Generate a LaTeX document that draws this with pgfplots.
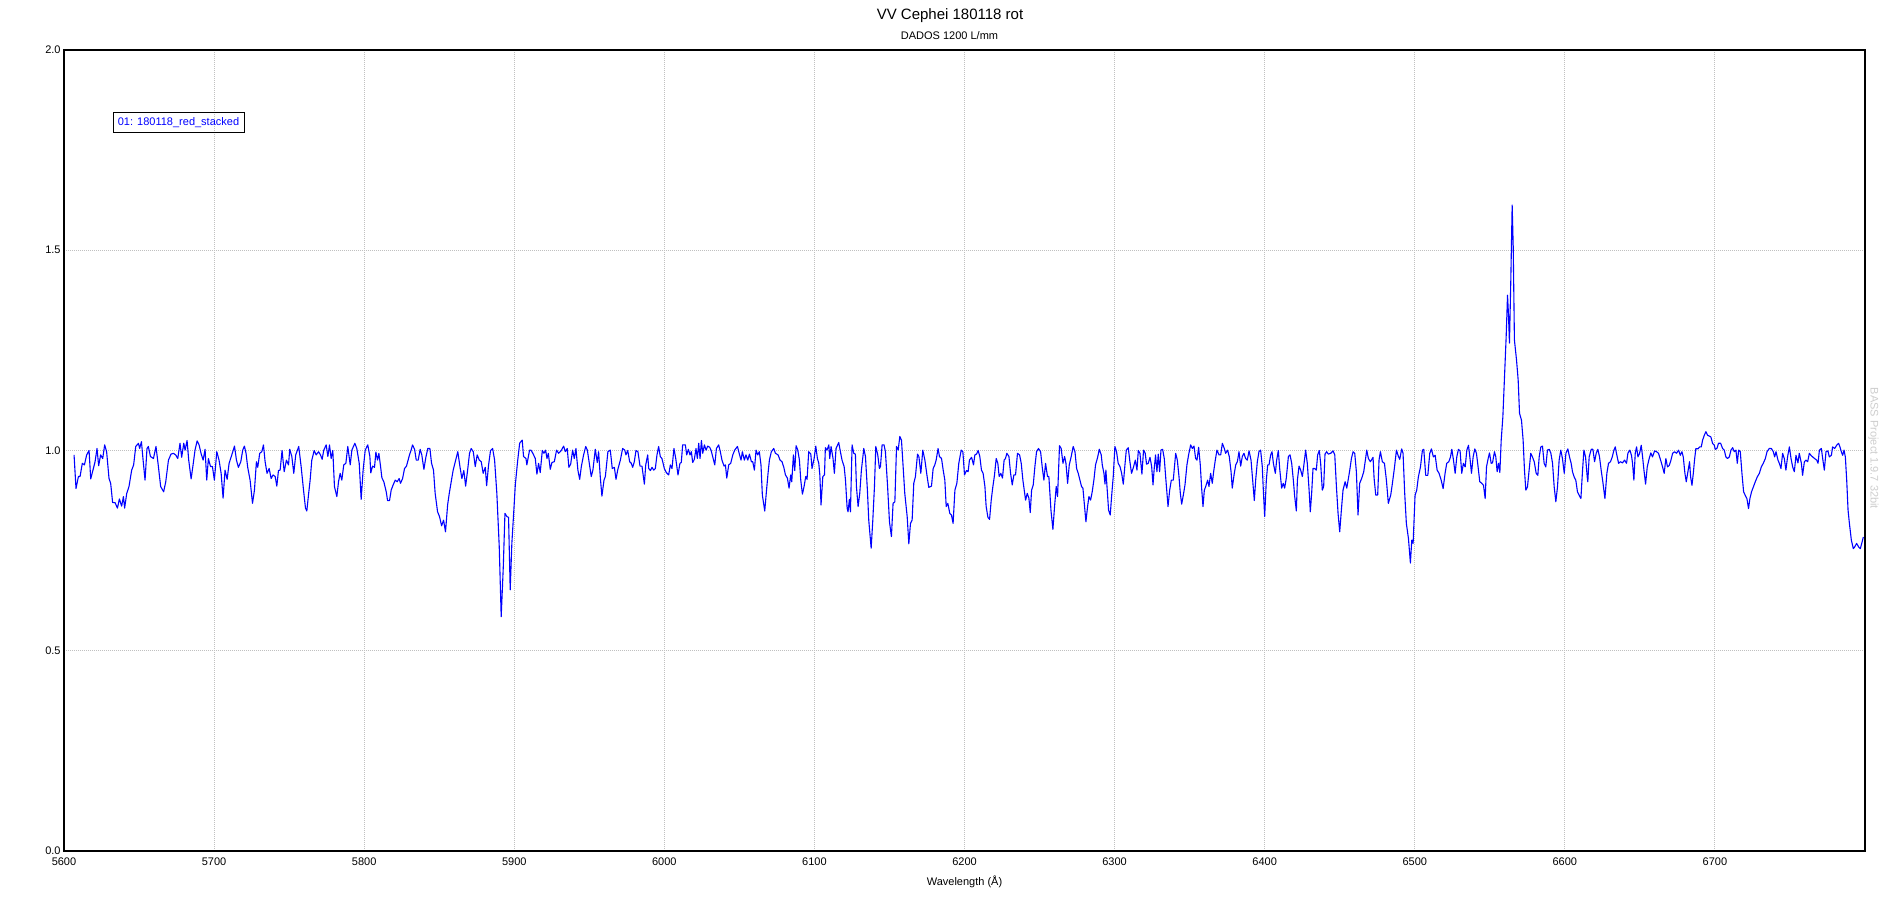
\documentclass[border=0pt]{standalone}
\usepackage{fontspec}
\setmainfont{Liberation Sans}
\usepackage{pgfplots}
\pgfplotsset{compat=1.18}
\definecolor{gridgray}{RGB}{192,192,192}
\definecolor{wmgray}{RGB}{205,205,205}
\definecolor{specblue}{RGB}{0,0,255}
\begin{document}
\begin{tikzpicture}
\useasboundingbox (-32bp,-24.5bp) rectangle (918bp,425.5bp);
\begin{axis}[
  at={(0,0)}, anchor=south west,
  scale only axis, width=900.5bp, height=400.5bp,
  xmin=5600, xmax=6800, ymin=0, ymax=2,
  xtick={5600,5700,5800,5900,6000,6100,6200,6300,6400,6500,6600,6700},
  xticklabels={5600,5700,5800,5900,6000,6100,6200,6300,6400,6500,6600,6700},
  ytick={0,0.5,1,1.5,2},
  yticklabels={0.0,0.5,1.0,1.5,2.0},
  major tick length=0pt,
  grid=major,
  grid style={gridgray, line width=0.5bp, dash pattern=on 0.5bp off 0.5bp},
  axis line style={line width=0.55bp},
  tick label style={font=\fontsize{5.5bp}{6.5bp}\selectfont},
  xticklabel style={anchor=center, yshift=-5.35bp},
  yticklabel style={anchor=east, inner sep=0pt, xshift=-1.5bp},
  xlabel={Wavelength (Å)},
  xlabel style={at={(axis description cs:0.5,0)}, anchor=center, yshift=-15.35bp, font=\fontsize{5.5bp}{6.5bp}\selectfont},
]
\addplot[specblue, line width=0.55bp, line join=round] table {
5606.7 0.989
5608.0 0.905
5609.6 0.935
5610.7 0.935
5612.2 0.968
5613.6 0.964
5615.1 0.989
5616.7 1.000
5617.8 0.929
5619.3 0.951
5620.7 0.972
5622.0 1.005
5623.1 0.962
5624.4 0.989
5625.8 0.980
5627.1 1.014
5628.4 0.997
5630.0 0.930
5631.1 0.918
5632.4 0.870
5634.0 0.870
5635.6 0.856
5636.9 0.879
5638.4 0.861
5639.6 0.885
5640.4 0.856
5641.8 0.893
5643.3 0.910
5645.1 0.951
5646.4 0.964
5647.8 1.010
5649.6 1.018
5650.4 1.005
5651.6 1.022
5652.7 0.976
5654.0 0.926
5655.3 1.005
5656.2 1.010
5657.6 0.985
5659.6 0.980
5661.3 1.010
5662.9 0.960
5664.4 0.910
5666.4 0.897
5667.8 0.922
5669.6 0.976
5671.3 0.991
5672.9 0.993
5674.4 0.989
5675.8 0.980
5677.3 1.018
5678.4 0.983
5679.8 1.018
5680.7 1.001
5682.0 1.025
5683.1 0.976
5684.7 0.929
5686.0 0.964
5687.3 1.001
5688.7 1.024
5690.0 1.014
5691.3 0.993
5692.7 0.976
5694.0 1.003
5695.1 0.926
5696.2 0.980
5697.6 0.960
5698.9 0.960
5700.2 0.926
5701.8 0.997
5703.3 0.976
5704.7 0.943
5706.0 0.881
5707.3 0.951
5708.7 0.928
5710.0 0.968
5711.8 0.989
5713.6 1.011
5714.9 0.976
5716.2 0.958
5717.8 0.972
5719.1 1.001
5720.2 1.011
5721.3 0.993
5722.4 0.958
5724.0 0.926
5725.6 0.868
5726.9 0.901
5728.2 0.972
5729.1 0.958
5730.4 0.993
5731.8 0.997
5732.9 1.014
5734.0 0.972
5735.3 0.943
5736.7 0.955
5738.0 0.930
5739.3 0.939
5740.7 0.935
5741.8 0.911
5742.9 0.950
5744.0 0.951
5745.3 1.000
5746.7 0.947
5748.2 0.976
5749.6 0.964
5750.4 1.003
5751.8 0.985
5753.1 0.943
5754.4 0.989
5756.4 1.010
5758.0 0.960
5759.6 0.901
5760.9 0.856
5761.8 0.849
5762.9 0.889
5764.0 0.926
5765.1 0.976
5766.7 1.000
5768.0 0.989
5769.6 0.997
5770.9 0.989
5772.0 0.978
5773.1 1.001
5774.7 1.014
5775.8 0.985
5776.9 1.014
5778.0 0.980
5779.1 1.000
5780.2 0.910
5781.8 0.885
5782.9 0.922
5784.0 0.943
5785.1 0.926
5786.4 0.964
5787.8 0.968
5789.1 1.010
5790.7 0.964
5791.8 1.001
5793.8 1.018
5795.1 1.005
5796.7 0.968
5798.0 0.878
5799.3 0.951
5800.7 1.001
5802.4 1.014
5803.8 0.985
5804.4 0.944
5805.6 0.961
5806.9 0.958
5807.8 0.996
5808.9 0.976
5809.8 0.993
5810.9 0.961
5811.8 0.932
5813.1 0.922
5814.7 0.897
5815.6 0.875
5816.9 0.875
5818.0 0.901
5819.3 0.914
5820.7 0.926
5822.0 0.922
5823.3 0.930
5824.2 0.918
5825.6 0.930
5826.9 0.955
5828.2 0.961
5830.2 0.989
5831.3 1.001
5832.2 1.014
5833.6 1.003
5834.7 0.976
5836.0 0.976
5837.3 1.003
5838.4 0.989
5839.8 0.953
5841.1 0.983
5842.4 1.005
5843.8 1.005
5844.9 0.968
5846.2 0.951
5847.3 0.893
5848.9 0.847
5850.2 0.835
5851.6 0.812
5852.9 0.826
5854.2 0.797
5855.6 0.864
5856.7 0.893
5858.0 0.922
5859.3 0.951
5860.7 0.972
5862.4 0.997
5863.8 0.960
5865.1 0.930
5866.4 0.950
5867.6 0.911
5868.9 0.950
5870.2 0.993
5871.3 1.005
5872.7 0.997
5874.0 0.960
5875.3 0.989
5876.7 0.976
5878.0 0.972
5879.3 0.943
5880.7 0.958
5881.6 0.912
5882.9 0.964
5884.2 1.000
5885.6 1.005
5886.9 0.976
5888.4 0.893
5890.0 0.760
5891.3 0.585
5892.7 0.710
5893.8 0.843
5895.1 0.835
5896.2 0.833
5897.3 0.652
5898.4 0.768
5899.6 0.843
5900.7 0.914
5902.2 0.972
5903.6 1.018
5904.4 1.022
5905.3 1.026
5906.2 0.985
5907.8 0.980
5908.4 0.964
5910.2 1.001
5911.1 1.001
5912.4 0.993
5914.0 0.980
5915.1 0.941
5916.2 0.968
5917.3 0.945
5918.7 1.000
5919.8 0.993
5920.9 1.001
5921.8 0.980
5922.7 0.993
5924.0 0.953
5925.1 0.970
5926.7 0.972
5928.2 1.001
5929.6 0.993
5931.3 1.000
5932.9 1.011
5934.0 0.997
5935.3 1.005
5936.4 0.958
5937.6 0.966
5938.9 1.001
5940.0 0.980
5941.1 1.005
5942.4 0.951
5943.6 0.928
5944.7 0.960
5946.2 0.989
5947.6 1.010
5948.7 1.001
5950.0 0.968
5951.3 0.935
5952.4 0.951
5954.0 1.003
5955.3 0.970
5956.2 0.997
5957.3 0.935
5958.4 0.886
5959.8 0.926
5960.7 0.935
5962.4 0.997
5964.0 1.001
5965.3 0.955
5966.7 0.958
5967.8 0.928
5968.9 0.951
5970.7 0.976
5972.2 1.005
5973.6 1.001
5974.4 0.989
5975.6 1.000
5976.9 0.972
5978.0 0.968
5978.9 0.958
5980.0 0.972
5981.1 1.000
5982.4 0.997
5983.8 0.961
5985.1 0.961
5986.7 0.916
5987.6 0.964
5988.9 0.989
5989.6 0.955
5990.7 0.950
5991.8 0.958
5992.9 0.951
5994.0 0.955
5995.1 0.989
5996.2 1.010
5997.3 0.985
5998.4 0.980
6000.0 0.955
6001.3 0.945
6002.9 0.939
6004.0 0.964
6005.1 0.955
6006.4 1.005
6007.6 0.980
6009.1 0.939
6010.4 0.968
6011.3 0.970
6012.2 1.014
6014.0 1.014
6014.9 0.989
6016.0 1.003
6017.1 0.989
6018.0 0.997
6018.9 0.970
6020.0 0.978
6021.1 1.005
6022.0 0.980
6022.9 1.018
6023.8 0.980
6024.7 1.025
6025.6 0.993
6026.7 1.014
6027.8 1.001
6028.9 1.011
6030.2 1.008
6031.1 1.001
6032.2 0.985
6033.6 0.964
6034.7 1.005
6036.2 1.014
6037.3 0.997
6038.4 0.976
6039.8 0.961
6040.7 0.964
6041.6 0.931
6042.9 0.964
6044.2 0.968
6045.6 0.989
6046.9 1.001
6048.7 1.010
6050.0 0.991
6051.1 0.976
6052.0 0.997
6053.3 0.976
6054.4 0.989
6055.6 0.976
6056.7 0.991
6058.0 0.972
6058.9 0.972
6060.0 0.951
6061.1 1.001
6062.2 0.989
6063.3 0.997
6064.4 0.964
6065.3 0.889
6066.9 0.849
6068.0 0.897
6069.1 0.943
6070.0 0.976
6071.3 0.997
6072.9 1.005
6074.0 0.993
6075.8 0.989
6077.1 0.976
6078.4 0.972
6079.6 0.958
6080.7 0.939
6082.0 0.931
6083.1 0.906
6084.2 0.939
6084.9 0.922
6086.0 0.989
6086.9 0.950
6087.8 1.012
6088.9 1.001
6090.0 0.976
6090.9 0.926
6092.0 0.891
6093.1 0.910
6094.2 0.935
6095.1 0.928
6096.2 0.997
6097.6 0.991
6098.4 0.955
6099.8 0.980
6100.9 1.011
6102.0 0.980
6102.9 0.968
6103.6 0.939
6104.4 0.864
6105.6 0.935
6106.7 0.939
6107.3 1.007
6108.4 1.001
6109.6 1.014
6110.2 0.980
6111.1 1.010
6112.4 0.980
6113.3 0.943
6114.4 1.005
6116.2 1.020
6117.3 0.997
6118.4 0.976
6119.8 0.960
6120.7 0.926
6121.8 0.856
6122.4 0.847
6123.3 0.878
6124.0 0.847
6125.1 1.014
6126.2 0.993
6127.3 0.991
6128.0 0.910
6129.1 0.860
6130.2 0.893
6131.3 0.951
6132.9 1.005
6134.0 0.985
6135.3 0.901
6136.2 0.826
6137.8 0.756
6138.9 0.826
6140.0 0.910
6140.9 1.010
6142.2 0.989
6143.3 0.955
6144.0 0.960
6145.1 1.014
6146.4 1.014
6147.3 0.997
6148.7 0.914
6150.0 0.822
6151.3 0.785
6152.4 0.868
6153.6 0.872
6154.7 1.010
6155.8 1.001
6156.9 1.035
6158.0 1.026
6159.1 0.960
6160.2 0.893
6161.8 0.835
6162.9 0.767
6164.0 0.818
6165.1 0.826
6166.2 0.918
6167.3 0.935
6168.7 0.991
6169.6 0.985
6170.9 0.943
6172.2 1.001
6173.6 0.976
6175.1 0.935
6176.2 0.908
6178.0 0.911
6179.1 0.955
6180.2 0.964
6181.1 0.976
6182.4 1.005
6183.3 0.985
6184.7 0.980
6185.8 0.951
6186.9 0.926
6187.8 0.860
6188.9 0.868
6190.2 0.843
6191.3 0.839
6192.4 0.818
6193.6 0.901
6194.9 0.918
6196.2 0.968
6197.8 1.001
6198.9 0.997
6200.0 0.939
6201.3 0.950
6202.4 0.947
6203.3 0.976
6204.7 0.983
6206.0 0.964
6206.9 0.989
6208.0 0.991
6209.1 1.000
6210.2 0.985
6211.3 0.951
6212.4 0.943
6213.6 0.910
6214.4 0.861
6215.6 0.833
6216.7 0.828
6217.8 0.876
6218.9 0.910
6220.0 0.939
6221.1 0.980
6222.2 0.968
6223.1 0.935
6224.2 0.943
6225.3 0.931
6226.4 0.976
6227.3 0.980
6228.2 0.993
6229.6 0.985
6230.7 0.943
6231.8 0.914
6232.9 0.939
6234.0 0.939
6235.3 0.993
6236.7 0.989
6237.8 0.968
6238.9 0.926
6239.8 0.901
6240.7 0.876
6241.8 0.893
6242.9 0.881
6243.8 0.845
6244.7 0.901
6245.8 0.914
6246.9 0.960
6248.0 0.997
6249.3 1.005
6250.7 0.997
6251.8 0.958
6252.9 0.926
6254.0 0.968
6255.3 0.935
6256.2 0.935
6257.6 0.851
6258.9 0.803
6260.0 0.860
6261.1 0.910
6262.0 0.885
6263.3 1.012
6264.4 1.005
6265.6 0.968
6266.7 0.985
6267.6 0.968
6268.7 0.918
6269.8 0.964
6271.1 0.985
6272.4 1.010
6273.6 0.997
6274.7 0.955
6275.8 0.943
6276.9 0.926
6278.0 0.910
6278.9 0.906
6279.8 0.868
6280.9 0.822
6282.0 0.860
6282.9 0.885
6284.0 0.876
6285.1 0.897
6286.2 0.926
6287.3 0.964
6288.7 0.983
6289.8 1.003
6291.1 0.989
6291.8 0.964
6292.9 0.943
6293.6 0.916
6294.2 0.951
6295.1 0.901
6296.0 0.851
6297.1 0.839
6298.0 0.885
6299.1 0.935
6300.2 1.010
6301.3 0.997
6302.4 0.968
6303.6 0.960
6304.7 0.943
6305.8 0.916
6306.9 0.964
6307.8 1.001
6309.1 1.007
6310.2 0.972
6311.3 0.943
6312.7 0.960
6313.8 0.976
6314.9 0.951
6315.8 1.000
6316.9 0.993
6318.2 0.941
6319.3 1.001
6320.4 0.993
6321.3 0.966
6322.4 0.968
6323.6 0.983
6324.7 0.960
6325.6 0.914
6326.4 0.955
6327.3 0.989
6328.2 0.947
6329.1 0.991
6330.0 0.947
6330.9 1.001
6332.0 1.003
6333.1 0.980
6334.2 0.926
6335.6 0.860
6336.7 0.901
6337.8 0.926
6339.1 0.926
6340.7 0.993
6341.8 0.976
6342.9 0.935
6343.8 0.893
6344.7 0.866
6345.8 0.889
6346.9 0.914
6348.2 0.964
6349.3 0.989
6350.7 1.014
6351.8 1.005
6352.9 1.011
6354.0 0.980
6354.9 0.976
6356.0 1.008
6357.1 0.964
6358.0 0.906
6358.9 0.860
6359.8 0.901
6360.7 0.910
6362.0 0.926
6362.9 0.910
6364.0 0.943
6365.1 0.918
6366.0 0.947
6367.1 0.976
6368.2 1.001
6369.6 0.989
6370.7 0.989
6371.8 1.018
6373.1 1.005
6374.0 0.993
6375.3 1.001
6376.4 0.985
6377.6 0.947
6378.4 0.906
6379.6 0.939
6380.7 0.964
6381.8 0.972
6382.9 0.997
6384.0 0.961
6385.1 0.985
6386.2 0.993
6387.3 0.980
6388.4 0.976
6389.6 0.999
6390.9 0.976
6392.0 0.926
6393.1 0.875
6394.0 0.926
6395.1 0.972
6396.2 0.997
6397.3 1.001
6398.4 0.960
6399.1 0.901
6400.0 0.835
6401.1 0.926
6402.0 0.964
6402.9 0.964
6404.0 0.989
6404.9 0.997
6405.8 0.968
6407.1 0.943
6408.0 0.976
6409.1 1.000
6410.0 0.955
6411.3 0.906
6412.4 0.918
6413.3 0.906
6414.4 0.931
6415.8 0.985
6416.9 0.989
6418.0 0.968
6419.1 0.926
6420.0 0.885
6421.1 0.849
6421.8 0.926
6422.9 0.961
6424.0 0.951
6425.1 0.935
6426.0 0.960
6427.3 1.001
6428.4 0.968
6429.6 0.901
6430.4 0.847
6431.3 0.893
6432.2 0.955
6433.3 0.955
6434.4 0.951
6435.3 0.989
6436.4 1.000
6437.3 0.968
6438.4 0.901
6439.3 0.910
6440.2 0.991
6441.3 0.997
6442.4 0.991
6444.0 0.993
6445.6 0.999
6446.7 0.989
6447.8 0.910
6448.9 0.843
6450.0 0.797
6451.1 0.851
6452.2 0.901
6453.6 0.922
6454.7 0.906
6455.6 0.926
6456.7 0.951
6457.8 0.980
6458.9 0.997
6460.0 0.993
6461.1 0.947
6462.2 0.839
6463.3 0.918
6464.7 0.931
6466.0 0.947
6467.1 0.976
6468.0 1.001
6469.1 0.980
6470.4 0.972
6471.1 0.976
6472.2 0.983
6472.9 0.931
6474.0 0.889
6475.3 0.889
6476.2 0.976
6477.1 0.997
6478.4 0.972
6479.8 0.968
6481.1 0.926
6482.4 0.868
6484.0 0.889
6485.1 0.918
6486.4 0.955
6487.8 1.001
6489.1 0.985
6490.0 0.978
6491.3 1.004
6492.2 0.993
6493.3 0.893
6494.4 0.818
6495.8 0.780
6497.1 0.719
6498.0 0.776
6498.9 0.768
6500.2 0.888
6501.3 0.901
6502.4 0.934
6503.8 0.959
6505.1 1.001
6506.0 1.003
6507.3 0.938
6508.7 0.938
6510.0 0.993
6511.1 1.004
6512.4 0.984
6513.6 0.988
6514.9 0.951
6516.2 0.943
6517.6 0.926
6518.9 0.905
6520.2 0.943
6521.3 0.968
6522.7 0.972
6523.8 0.984
6524.7 1.003
6525.8 0.976
6526.9 0.943
6528.0 0.984
6529.1 1.003
6530.2 0.999
6531.3 0.943
6532.4 0.968
6533.6 0.959
6534.7 1.001
6535.8 1.013
6536.7 0.984
6537.8 0.943
6538.9 0.984
6540.0 1.004
6541.1 0.993
6542.2 0.959
6543.3 0.922
6544.7 0.918
6545.8 0.913
6546.9 0.880
6547.8 0.959
6548.9 0.980
6549.8 0.994
6550.9 0.968
6551.8 0.969
6553.1 0.997
6554.0 0.984
6554.9 0.947
6555.8 0.968
6556.7 0.945
6557.6 1.026
6558.7 1.084
6559.8 1.184
6560.9 1.284
6561.8 1.388
6562.4 1.343
6563.1 1.268
6564.0 1.426
6564.9 1.613
6565.6 1.509
6566.4 1.276
6567.8 1.226
6568.9 1.176
6569.8 1.093
6571.1 1.076
6572.2 1.026
6573.1 0.951
6574.0 0.901
6575.1 0.909
6576.2 0.951
6577.3 0.993
6578.4 0.984
6579.6 0.972
6580.9 0.943
6582.0 0.938
6582.9 0.984
6584.0 1.009
6585.1 1.011
6586.2 0.968
6587.3 0.959
6588.4 1.001
6589.6 1.003
6590.7 0.993
6591.8 0.968
6592.9 0.909
6594.0 0.872
6595.1 0.909
6596.2 0.976
6597.3 1.001
6598.4 0.980
6599.6 0.943
6600.7 0.993
6602.0 1.004
6603.1 0.984
6604.2 0.968
6605.1 0.947
6606.2 0.934
6607.3 0.926
6608.4 0.897
6609.6 0.888
6610.7 0.880
6611.8 0.951
6612.7 1.001
6613.8 0.984
6614.9 0.934
6615.3 0.922
6616.2 0.984
6617.6 1.003
6618.7 1.003
6619.8 0.972
6620.9 0.993
6622.0 1.003
6623.1 0.984
6624.2 0.951
6625.3 0.922
6626.7 0.880
6628.0 0.943
6629.1 0.968
6630.4 0.972
6631.6 0.984
6632.7 1.001
6633.6 1.009
6634.4 0.993
6635.8 0.968
6637.1 0.972
6638.4 0.969
6639.8 0.976
6641.1 0.968
6642.0 0.993
6643.3 1.001
6644.4 0.988
6645.1 0.968
6646.0 0.926
6646.9 0.993
6647.8 1.009
6648.7 0.984
6649.8 0.993
6650.9 1.013
6651.8 0.984
6652.7 0.951
6653.8 0.916
6654.9 0.959
6656.2 0.980
6657.3 0.994
6658.4 0.984
6659.8 0.999
6661.1 0.997
6662.4 0.993
6663.8 0.976
6665.1 0.959
6666.2 0.943
6667.3 0.980
6668.4 0.959
6669.6 0.963
6670.7 0.976
6671.8 0.993
6673.1 0.997
6674.4 0.993
6675.8 1.001
6676.9 0.988
6678.0 0.997
6678.9 0.984
6680.0 0.943
6680.9 0.922
6682.0 0.947
6683.1 0.972
6683.8 0.934
6684.7 0.913
6685.6 0.943
6686.4 0.976
6687.3 1.005
6688.7 1.004
6689.8 1.009
6690.9 1.009
6691.8 1.026
6692.9 1.038
6694.0 1.047
6695.1 1.038
6696.2 1.036
6697.3 1.034
6698.4 1.018
6699.6 1.013
6700.2 1.003
6701.3 1.005
6702.4 1.018
6703.8 1.018
6705.1 1.005
6706.2 1.001
6707.3 0.984
6708.4 0.980
6709.6 0.984
6710.7 1.001
6711.8 1.007
6712.9 0.997
6714.0 1.001
6714.9 0.968
6715.8 1.001
6716.9 0.997
6718.0 0.943
6719.1 0.897
6720.2 0.888
6721.3 0.880
6722.4 0.855
6723.3 0.880
6724.4 0.897
6725.6 0.909
6726.9 0.922
6728.2 0.934
6729.6 0.943
6730.9 0.959
6732.2 0.968
6733.6 0.980
6734.7 0.997
6736.2 1.005
6737.6 1.005
6738.9 0.997
6739.8 0.984
6740.7 0.997
6742.0 0.976
6742.9 0.968
6744.0 0.955
6745.1 0.993
6746.2 0.980
6747.3 0.951
6748.4 0.984
6749.6 1.009
6750.7 0.980
6751.8 0.959
6752.9 0.947
6754.0 0.988
6755.3 0.969
6756.2 0.993
6757.6 0.968
6758.4 0.938
6759.6 0.972
6760.7 0.976
6761.8 0.972
6762.9 0.993
6764.0 0.988
6765.1 0.984
6766.4 0.980
6767.8 0.976
6768.7 0.968
6769.6 1.001
6770.9 1.005
6771.8 0.980
6772.9 0.951
6774.0 0.997
6775.3 0.999
6776.2 0.984
6777.6 0.988
6778.4 1.009
6779.8 1.005
6781.1 1.013
6782.4 1.018
6783.3 1.009
6784.2 0.997
6785.1 0.988
6786.0 1.001
6786.9 0.984
6787.8 0.926
6788.7 0.851
6789.6 0.818
6790.9 0.776
6792.2 0.755
6793.1 0.759
6794.4 0.768
6795.8 0.759
6796.9 0.755
6797.8 0.768
6798.9 0.784
};
\end{axis}
\node[anchor=base, font=\fontsize{7.5bp}{9bp}\selectfont] at (443bp,415.5bp) {VV Cephei 180118 rot};
\node[anchor=base, font=\fontsize{5.5bp}{6.5bp}\selectfont] at (442.75bp,405.75bp) {DADOS 1200 L/mm};
\node[draw=black, line width=0.5bp, text=specblue, font=\fontsize{5.5bp}{6.5bp}\selectfont, minimum width=65.5bp, minimum height=10bp, inner sep=0pt] at (57.25bp,364bp) {01: 180118\_red\_stacked};
\node[rotate=-90, text=wmgray, font=\fontsize{5.5bp}{6.5bp}\selectfont] at (904.75bp,201.25bp) {BASS Project 1.9.7 32bit};
\end{tikzpicture}
\end{document}
